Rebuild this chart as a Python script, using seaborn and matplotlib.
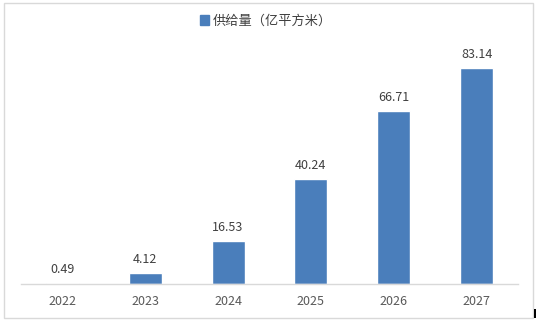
import matplotlib
matplotlib.use("Agg")
import matplotlib.pyplot as plt
import seaborn as sns
import pandas as pd
from matplotlib.patches import Rectangle, Patch

years = ["2022", "2023", "2024", "2025", "2026", "2027"]
values = [0.49, 4.12, 16.53, 40.24, 66.71, 83.14]
series_name = "供给量（亿平方米）"

sns.set_theme(style="white")
plt.rcParams['font.family'] = ['Microsoft YaHei', 'Noto Sans CJK SC', 'DejaVu Sans']

df = pd.DataFrame({"year": years, "value": values})

fig = plt.figure(figsize=(5.37, 3.21), dpi=100)
ax = fig.add_axes([21/537, 37/321, 497/537, 234/321])
sns.barplot(data=df, x="year", y="value", color="#4a7ebb", width=0.4,
            saturation=1, ax=ax)
ax.set_xlim(-0.5, len(years) - 0.5)
ax.set_ylim(0, 90)
ax.set_xlabel("")
ax.set_ylabel("")
ax.set_yticks([])
for s in ["top", "left", "right"]:
    ax.spines[s].set_visible(False)
ax.spines["bottom"].set_color("#d9d9d9")
ax.spines["bottom"].set_linewidth(1)
ax.tick_params(axis="x", length=0, labelsize=9, colors="#595959", pad=8)

for i, v in enumerate(values):
    ax.annotate(f"{v:.2f}", (i, v), xytext=(0, 5), textcoords="offset points",
                ha="center", va="bottom", fontsize=9, color="#404040")

leg = fig.legend(handles=[Patch(color="#4a7ebb", label=series_name)],
                 loc="center", bbox_to_anchor=(266/537, 1 - 21/321),
                 frameon=False, fontsize=9.5, handlelength=0.7, handleheight=0.7,
                 handletextpad=0.3)
for t in leg.get_texts():
    t.set_color("#404040")

fig.patches.append(Rectangle((4/537, 3/321), 529/537, 315/321, transform=fig.transFigure,
                             fill=False, edgecolor="#d9d9d9", linewidth=1))
fig.patches.append(Rectangle((534/537, 3/321), 2/537, 9/321, transform=fig.transFigure,
                             facecolor="black", edgecolor="none"))

fig.savefig("out.png", dpi=100)
